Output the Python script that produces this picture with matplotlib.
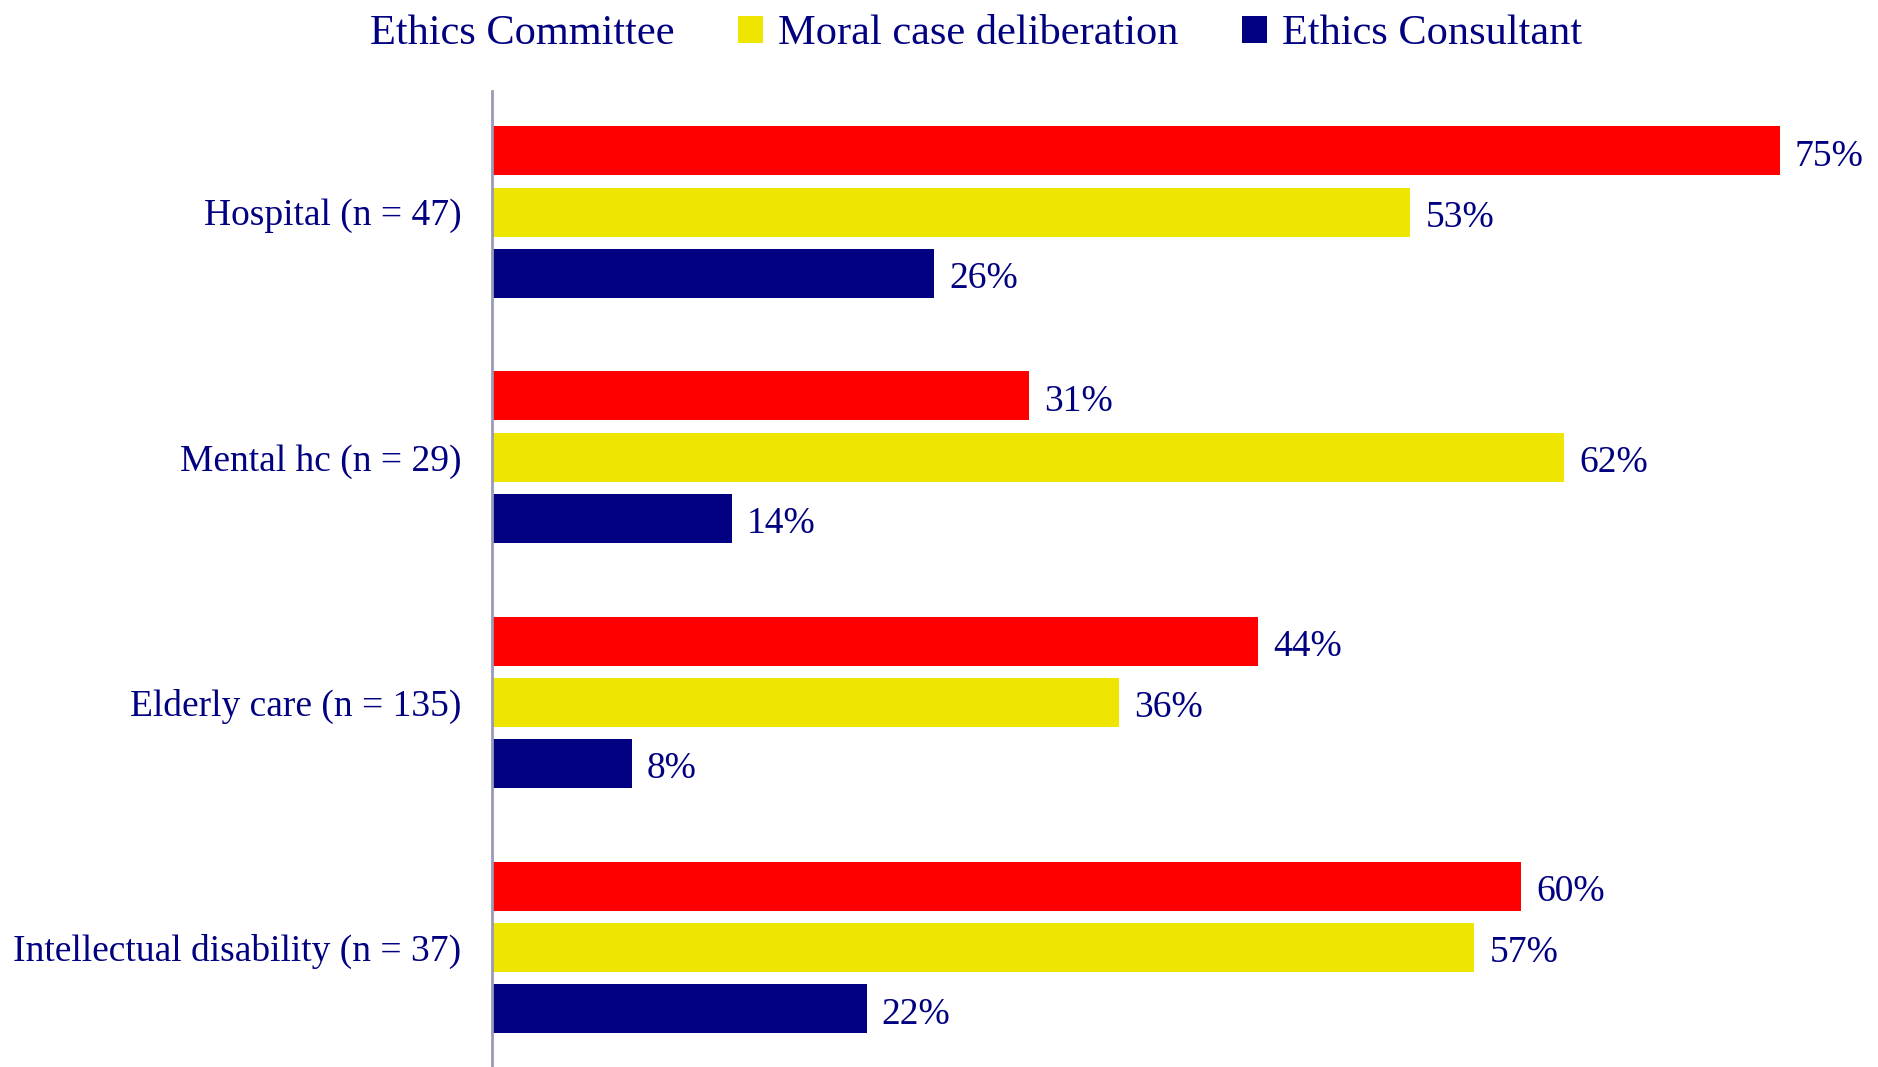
import matplotlib.pyplot as plt
from matplotlib.patches import Patch
import numpy as np

categories = ['Hospital (n = 47)', 'Mental hc (n = 29)', 'Elderly care (n = 135)',
              'Intellectual disability (n = 37)']
series = ['Ethics Committee', 'Moral case deliberation', 'Ethics Consultant']
committee = [74.6, 31.1, 44.4, 59.6]
deliberation = [53.2, 62.1, 36.3, 56.9]
consultant = [25.6, 13.9, 8.1, 21.7]

colors = ['#FF0000', '#EEE600', '#000080']
navy = '#000080'

plt.rcParams['font.family'] = ['Liberation Serif', 'DejaVu Serif']

fig = plt.figure(figsize=(18.78, 10.67), dpi=100)
ax = fig.add_axes([0.262, 0.0, 0.738, 0.915])

base = -4 * np.arange(len(categories))
for j, vals in enumerate([committee, deliberation, consultant]):
    ax.barh(base - j, vals, height=0.8, color=colors[j])
    for y, v in zip(base - j, vals):
        ax.annotate(f'{v:.0f}%', (v, y), xytext=(11, -4), textcoords='offset points',
                    va='center', ha='left', fontsize=27, color=navy)

ax.set_yticks(base - 1)
ax.set_yticklabels(categories, fontsize=27, color=navy)
ax.tick_params(axis='y', length=0, pad=22)
ax.set_xticks([])
ax.set_xlim(0, 80.3)
ax.set_ylim(-14.95, 0.98)
for s in ['top', 'right', 'bottom']:
    ax.spines[s].set_visible(False)
ax.spines['left'].set_color('#9a9ab8')
ax.spines['left'].set_linewidth(2)

handles = [Patch(facecolor='white', edgecolor='white'),
           Patch(facecolor=colors[1]), Patch(facecolor=colors[2])]
leg = fig.legend(handles, series, loc='upper center', bbox_to_anchor=(0.509, 1.022),
                 ncol=3, frameon=False, fontsize=30.5, handlelength=0.6,
                 handleheight=0.6, handletextpad=0.35, columnspacing=1.5)
for t in leg.get_texts():
    t.set_color(navy)

fig.savefig('out.png', dpi=100)
